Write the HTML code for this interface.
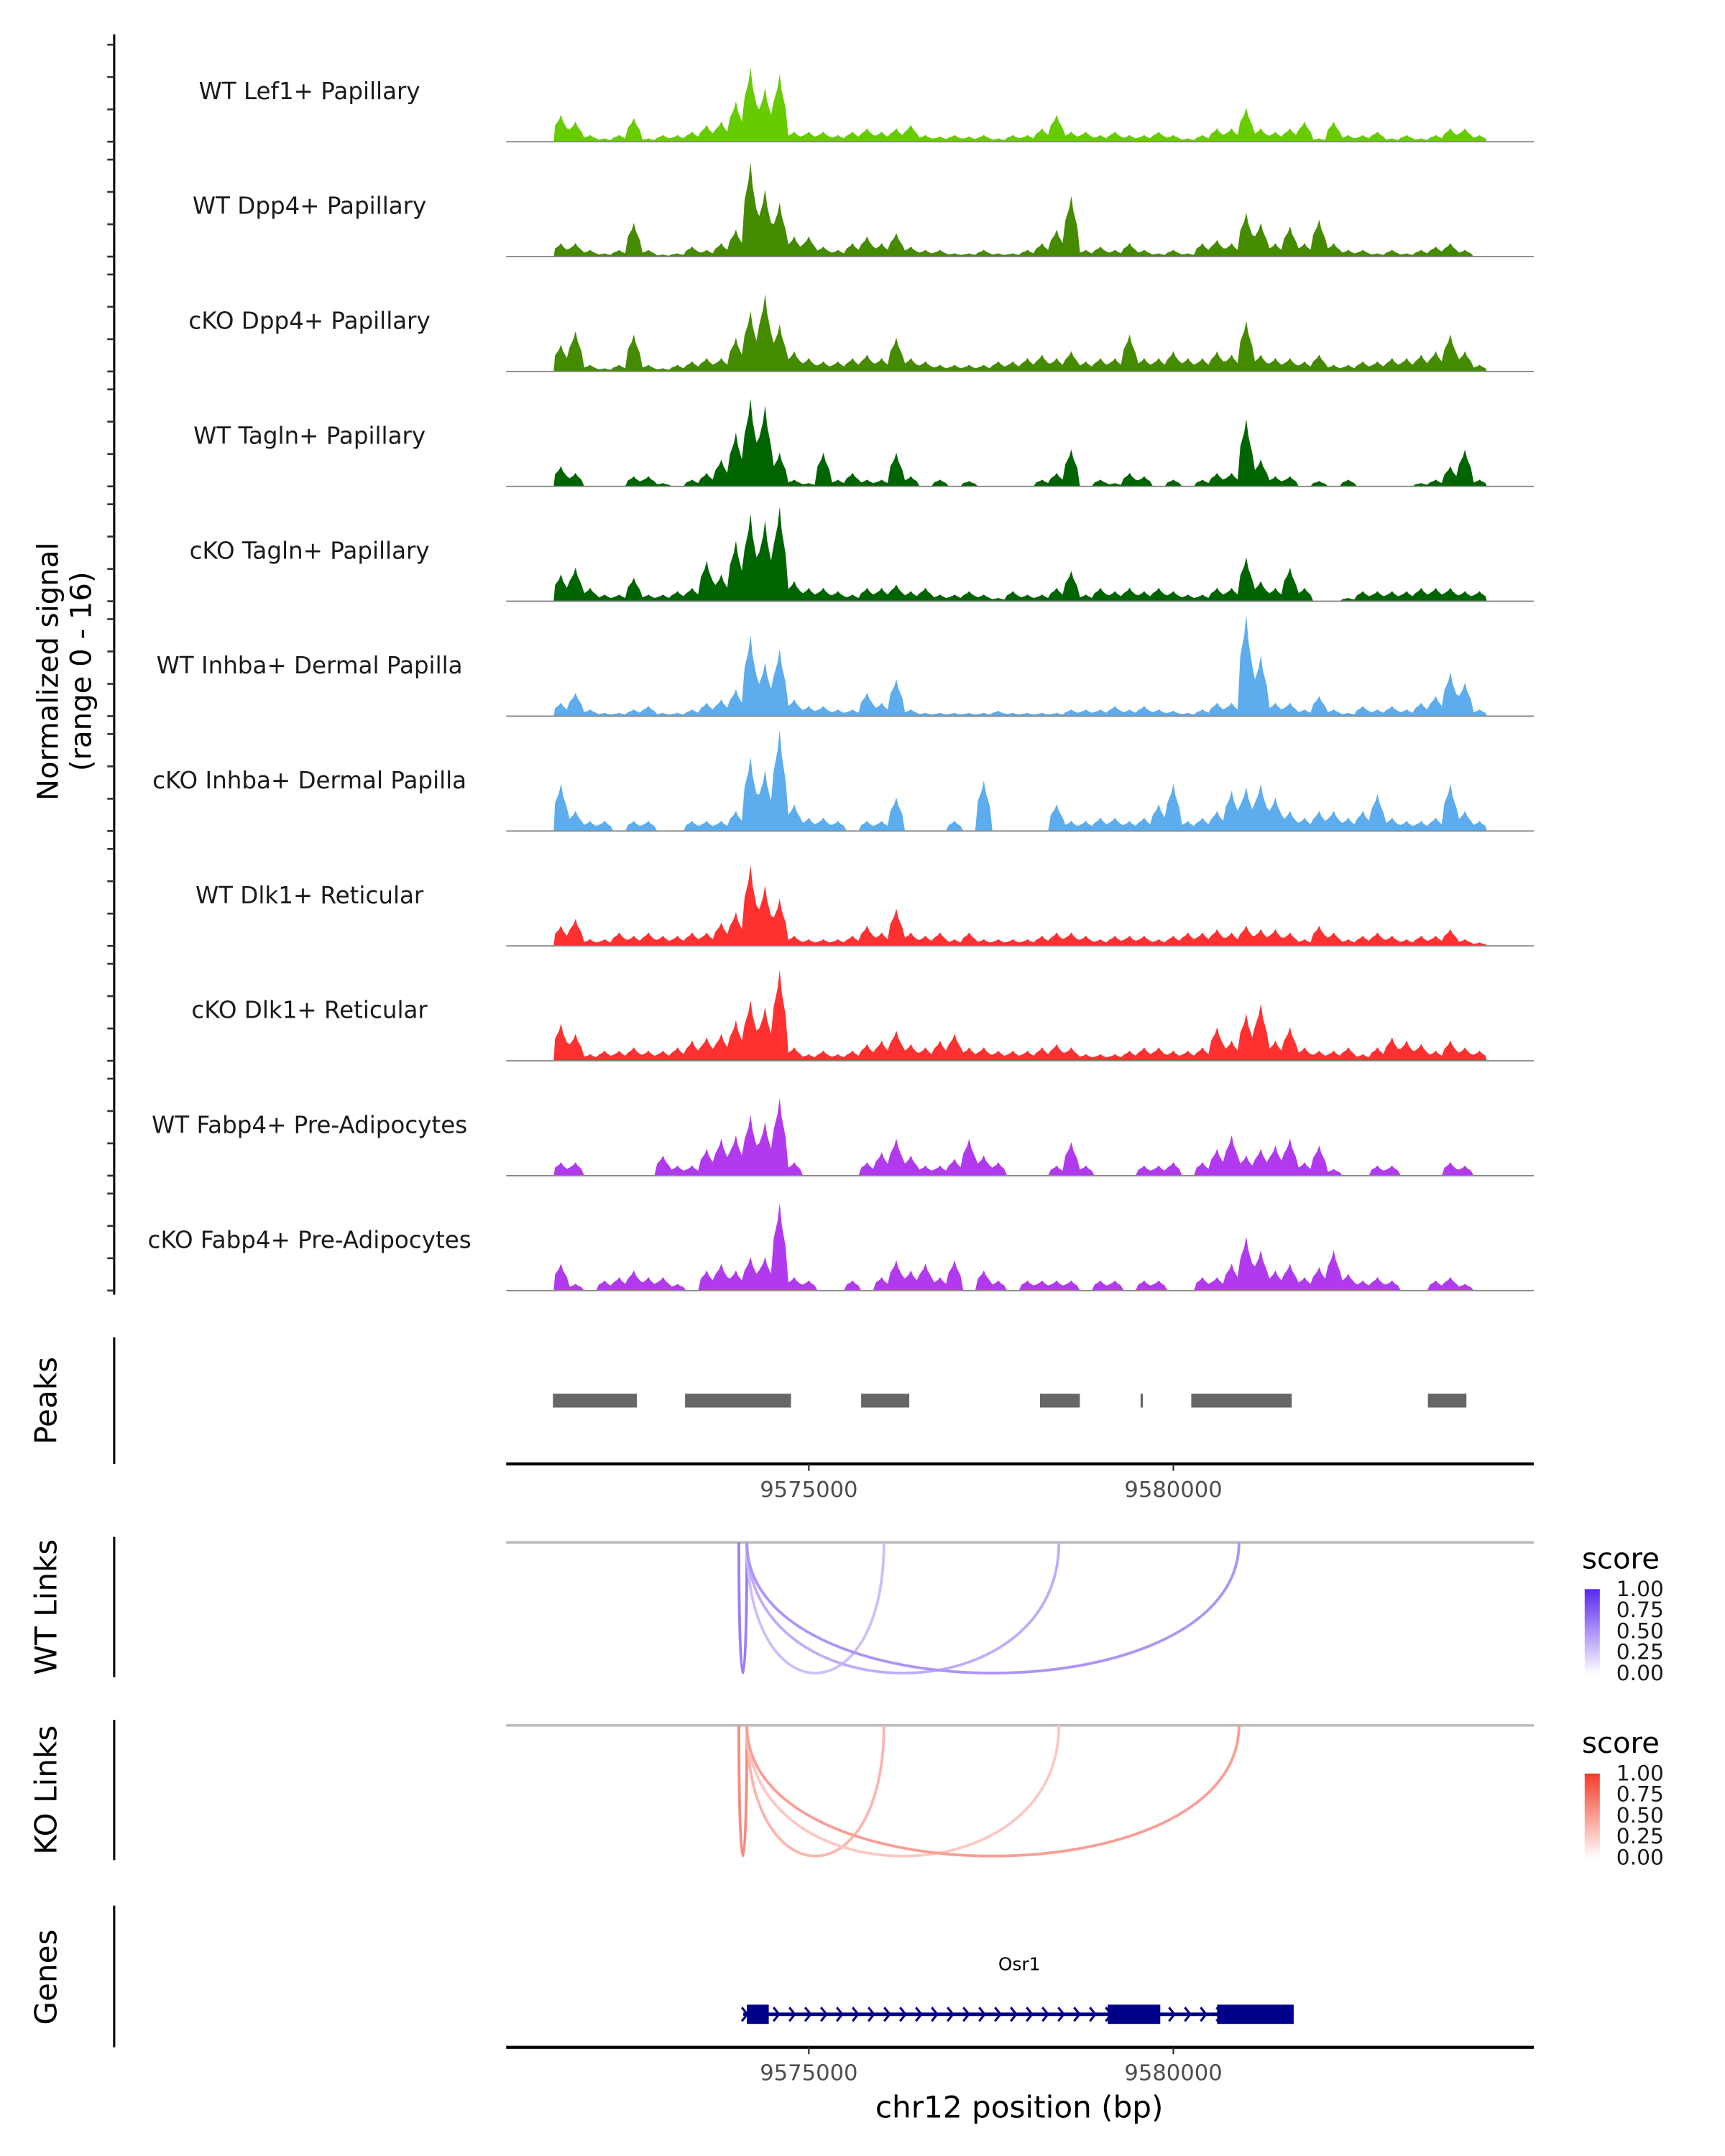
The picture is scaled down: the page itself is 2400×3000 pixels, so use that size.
<!DOCTYPE html>
<html><head><meta charset="utf-8"><style>
html,body{margin:0;padding:0;background:#fff}
svg{display:block}
text{font-family:"DejaVu Sans","Liberation Sans",sans-serif}
</style></head><body>
<svg id="chart" width="2400" height="3000" viewBox="0 0 1254 1567" preserveAspectRatio="none" xmlns="http://www.w3.org/2000/svg">
<g id="tracks"></g>
<g id="peaks"></g>
<g id="links"></g>
<g id="genes"></g>
</svg>
<script>
const binStart = 9571500;
const binStep = 200;
const trackNames = ["WT Lef1+ Papillary","WT Dpp4+ Papillary","cKO Dpp4+ Papillary","WT Tagln+ Papillary","cKO Tagln+ Papillary","WT Inhba+ Dermal Papilla","cKO Inhba+ Dermal Papilla","WT Dlk1+ Reticular","cKO Dlk1+ Reticular","WT Fabp4+ Pre-Adipocytes","cKO Fabp4+ Pre-Adipocytes"];
const trackColors = ["#66cc00","#458b00","#458b00","#006400","#006400","#5cacee","#5cacee","#ff3030","#ff3030","#b23aee","#b23aee"];
const sigWtLef1 = [4,3,1,0.5,1,3.5,0.5,1,1,1.5,2.5,3,6,11,8,10,1.5,1.5,1.5,1,1.5,2,1.5,2,2.5,1,0.8,1,0.8,1,0.5,1,1,2,4,1.5,1.5,1,1.5,1,1,1.5,1,0.5,1,2,2,5,2,1.5,2,3,0.5,3,1,1,1.5,0.5,1,0.5,1,2,2,1];
const sigWtDpp4 = [2,2,1,0.5,1,5,1,0.3,0.5,1.5,1,2,4,14,10,8,3,3,1.5,1,2,3,2,3.5,1.5,1,1,0.5,0.5,1,0.5,0.5,1,2,4,9,1,1.5,1,2,1,0.5,1,0.5,2,2.5,2,6.5,5,2,4.5,2,5.5,2,1,1,0.5,1,0.5,1,1.5,2,1,0];
const sigKoDpp4 = [4,6,1,0.5,1,5.5,1,0.5,1,1.5,2,2,5,9,11.5,7,3,2,1.5,1.5,2,2.5,2,5,2,1.5,1,1,1,1,1.5,1.5,2,2.5,2,3,1.5,2,2,5.5,2,2,3,2,2,3,2.5,7.5,2.5,2,2,1.5,2.5,1,1,1.5,1.5,2,2,2.5,3,5.5,3,1];
const sigWtTagln = [3,2,0,0,0,1.5,1.5,0.5,0,1,2,4,8,13,12,5,1,0.5,5,1,2,1,1,5,1.5,0,1,0,0.8,0,0,0,0,1,2,5.5,0,1,0.5,2,1.5,0,1,0,1,2,2,10,4,1.5,1.5,0,0.8,0,1,0,0,0,0,0.5,1,3,5.5,1];
const sigKoTagln = [4,5,2,1,1,3.5,1,1,1.5,2,6,4,9,13,12,14,3,2,2,1.5,1,2,2,2.5,1.5,2,1,1,1.5,1,0.5,1.5,1,1,2,4.5,1,2,1.5,2,1.5,2,1.5,1,1,2,2,6.5,3,2,5,2,0,0,0.5,1.5,1.5,1.5,1.5,2,2,2,1.5,1.5];
const sigWtInhba = [2,3.5,1,0.5,0.5,1,1.5,0.5,0.5,1,2,2.5,4,12,8,10,2.5,1.5,1.5,1,1,3.5,2,5.5,1,0.5,0.5,0.5,0.5,0.5,0.8,0.5,0.5,0.5,0.5,1,1,1,1.5,1,1.5,1,0.8,0.5,1,2,2,15,9,2,2,1,3,1,0.5,1.5,1,1.5,1,2,3,6.5,5,1];
const sigKoInhba = [7,3,1.5,1.5,0,1.5,1.5,0,0,1.5,1.5,1.5,3,11,9,15,4,2,2,1.5,0,1.5,1.5,5,0,0,0,1.5,0,7.5,0,0,0,0,4,1.5,1.5,2,2,1.5,2,4,7,1.5,2,3,6,6.5,7,5,3,2,3,3,2,3,5.5,2,1.5,1.5,2,7,3,1.5];
const sigWtDlk1 = [3,4,1,1,2,1.5,2,1.5,1.5,2,2,3.5,5,12,9,7,1.5,1,1,1,1.5,3,2,5.5,2,1.5,2,1,2,1,1,1,1,1.5,2,2,1.5,1,1.5,1.5,1.5,1,1.5,2,2,2.5,2,3,2.5,2.5,2,1,3,2,1,1.5,2,1.5,1,1.5,1.5,2.5,1,0.5];
const sigKoDlk1 = [5.5,4,1,1.5,1.5,2,1.5,1.5,2,3,3.5,4,6,9,8,13.5,2,1,1.5,1,1.5,2.5,3,4.5,2.5,2,3,4,2,2,1.5,1.5,1.5,2,2.5,2,1,1,1,1.5,2,2,1.5,1.5,2,5,3,7,8.5,3,5,2,1.5,1.5,2,1,2,3.5,3,2.5,1.5,3,2,1.5];
const sigWtFabp4 = [2,2,0,0,0,0,0,3,1.5,1.5,4,5.5,6,9,8,11.5,2,0,0,0,0,2,3.5,5.5,3,1.5,1.5,2.5,5.5,3,2,0,0,0,1.5,5,1.5,0,0,0,1.5,1.5,2,0,2,4,6,3,4,4.5,5.5,2,4.5,1,0,0,1.5,1.5,0,0,0,2,1.5,0];
const sigKoFabp4 = [4,1,0,1.5,2,3,2,2,1,0,3,4,3,5,5,13,2,1.5,0,0,1.5,0,2,4.5,3,4,2,4.5,0,3,1.5,0,1.5,1.5,1.5,1.5,0,1.5,1.5,0,1.5,1.5,0,0,2,2,4,8,6,3,4,2,3.5,6,2.5,1.5,2,1.5,0,0,1.5,2,1,0];
const signals = [sigWtLef1,sigWtDpp4,sigKoDpp4,sigWtTagln,sigKoTagln,sigWtInhba,sigKoInhba,sigWtDlk1,sigKoDlk1,sigWtFabp4,sigKoFabp4];
const yTicks = [0,5,10,15];
const peakStarts = [9571490,9573302,9575717,9578170,9579550,9580245,9583491];
const peakEnds = [9572641,9574755,9576377,9578717,9579582,9581623,9584019];
const xTicks = [9575000,9580000];
const linkStarts = [9574040,9574150,9574150,9574150];
const linkEnds = [9574150,9576030,9578430,9580900];
const wtScores = [0.6,0.3,0.38,0.5];
const koScores = [0.6,0.38,0.28,0.5];
const legendLabels = ["1.00","0.75","0.50","0.25","0.00"];
const exonStarts = [9574150,9579100,9580600];
const exonEnds = [9574450,9579820,9581650];
const geneStart = 9574100, geneEnd = 9581650;

const NS="http://www.w3.org/2000/svg";
const X0=368,X1=1115,BP0=9570849,PXBP=0.053;
function xs(bp){return X0+(bp-BP0)*PXBP;}
const UNIT=4.9;
function el(tag,attrs,parent,txt){const e=document.createElementNS(NS,tag);for(const k in attrs)e.setAttribute(k,attrs[k]);if(txt!==undefined)e.textContent=txt;parent.appendChild(e);return e;}
const gT=document.getElementById('tracks');
const ya=el('line',{x1:83,x2:83,y1:25,y2:941,stroke:'#000','stroke-width':1.6},gT);


const yt=el('text',{x:0,y:0,'font-size':21,'text-anchor':'middle',transform:'translate(42,488) rotate(-90)'},gT,'Normalized signal');


const yt2=el('text',{x:0,y:0,'font-size':21,'text-anchor':'middle',transform:'translate(66,488) rotate(-90)'},gT,'(range 0 - 16)');


signals.forEach((vals,t)=>{
  const base=103+t*83.5;
  const g=el('g',{},gT);
  
  
  yTicks.forEach(v=>{
    const tk=el('line',{x1:78,x2:83,y1:base-v*4.7,y2:base-v*4.7,stroke:'#333','stroke-width':1.4},g);
    
    
  });
  let d='M'+xs(binStart)+','+base;
  vals.forEach((v,i)=>{
    const xa=xs(binStart+i*binStep), xb=xs(binStart+(i+1)*binStep);
    const xm=(xa+xb)/2, y=base-v*UNIT;
    d+=' L'+(xa+1).toFixed(1)+','+(base-v*UNIT*0.6).toFixed(1)+' L'+(xm-1.5).toFixed(1)+','+(base-v*UNIT*0.8).toFixed(1)+' L'+xm.toFixed(1)+','+y.toFixed(1)+' L'+(xm+1.5).toFixed(1)+','+(base-v*UNIT*0.75).toFixed(1)+' L'+(xb-1).toFixed(1)+','+(base-v*UNIT*0.5).toFixed(1);
  });
  d+=' L'+xs(binStart+vals.length*binStep)+','+base+' Z';
  const a=el('path',{d:d,fill:trackColors[t]},g);
  
  
  const bl=el('line',{x1:X0,x2:X1,y1:base,y2:base,stroke:'#888','stroke-width':1},g);
  
  
  const lb=el('text',{x:225,y:base-31,'font-size':17,'text-anchor':'middle',fill:'#1a1a1a'},g,trackNames[t]);
  
  
});
const gP=document.getElementById('peaks');
const pa=el('line',{x1:83,x2:83,y1:972,y2:1064,stroke:'#000','stroke-width':1.6},gP);


const pt=el('text',{x:0,y:0,'font-size':22,'text-anchor':'middle',transform:'translate(41,1018) rotate(-90)'},gP,'Peaks');


peakStarts.forEach((s,i)=>{
  const r=el('rect',{x:xs(s),y:1013,width:Math.max(1,xs(peakEnds[i])-xs(s)),height:10,fill:'#666'},gP);
  
  
});
function xAxis(g,y){
  const l=el('line',{x1:X0,x2:X1,y1:y,y2:y,stroke:'#000','stroke-width':2.2},g);
  
  
  xTicks.forEach(v=>{
    const tk=el('line',{x1:xs(v),x2:xs(v),y1:y,y2:y+5,stroke:'#333','stroke-width':1.2},g);
    
    
    const tl=el('text',{x:xs(v),y:y+24,'font-size':16,'text-anchor':'middle',fill:'#4d4d4d'},g,String(v));
    
    
  });
}
xAxis(gP,1064);
const gL=document.getElementById('links');
function linksPanel(top,scores,title,cHi,legY){
  const g=el('g',{},gL);
  
  
  const ax=el('line',{x1:83,x2:83,y1:top-4,y2:top+98,stroke:'#000','stroke-width':1.6},g);
  
  
  const tt=el('text',{x:0,y:0,'font-size':22,'text-anchor':'middle',transform:'translate(41,'+(top+47)+') rotate(-90)'},g,title);
  
  
  const bl=el('line',{x1:X0,x2:X1,y1:top,y2:top,stroke:'#bdbdbd','stroke-width':2},g);
  
  
  const depth=95;
  function mix(s){const a=[255,255,255],b=cHi;return 'rgb('+a.map((c,i)=>Math.round(c+(b[i]-c)*s)).join(',')+')';}
  linkStarts.forEach((s,i)=>{
    const x1=xs(s),x2=xs(linkEnds[i]),cy=top+depth*4/3;
    const p=el('path',{d:'M'+x1+','+top+' C'+x1+','+cy+' '+x2+','+cy+' '+x2+','+top,fill:'none',stroke:mix(scores[i]),'stroke-width':2},g);
    
    
  });
  const lt=el('text',{x:1150,y:legY,'font-size':21},g,'score');
  
  
  const gid='grad'+top;
  const defs=el('defs',{},g);
  const lg=el('linearGradient',{id:gid,x1:0,y1:0,x2:0,y2:1},defs);
  el('stop',{offset:'0','stop-color':mix(1)},lg);
  el('stop',{offset:'1','stop-color':'#ffffff'},lg);
  const cb=el('rect',{x:1152,y:legY+15,width:11,height:62,fill:'url(#'+gid+')'},g);
  
  
  legendLabels.forEach((l,i)=>{
    const t=el('text',{x:1175,y:legY+20+i*15.3,'font-size':15.5,fill:'#1a1a1a'},g,l);
    
    
  });
}
linksPanel(1121,wtScores,'WT Links',[90,40,240],1140);
linksPanel(1254,koScores,'KO Links',[245,60,40],1274);
const gG=document.getElementById('genes');
const ga=el('line',{x1:83,x2:83,y1:1385,y2:1488,stroke:'#000','stroke-width':1.6},gG);


const gt=el('text',{x:0,y:0,'font-size':22,'text-anchor':'middle',transform:'translate(41,1437) rotate(-90)'},gG,'Genes');


const gl=el('line',{x1:xs(geneStart),x2:xs(geneEnd),y1:1464,y2:1464,stroke:'#00008b','stroke-width':2.5},gG);


for(let x=xs(geneStart)+2;x<xs(geneEnd)-4;x+=11.5){
  const c=el('polyline',{points:(x-3)+',1459 '+(x+1)+',1464 '+(x-3)+',1469',fill:'none',stroke:'#00008b','stroke-width':1.6},gG);
  
  
}
exonStarts.forEach((s,i)=>{
  const r=el('rect',{x:xs(s),y:1457,width:xs(exonEnds[i])-xs(s),height:14,fill:'#00008b'},gG);
  
  
});
const gn=el('text',{x:741,y:1432,'font-size':13,'text-anchor':'middle'},gG,'Osr1');


xAxis(gG,1488);
const xt=el('text',{x:741,y:1539,'font-size':22,'text-anchor':'middle'},gG,'chr12 position (bp)');


</script>
</body></html>
